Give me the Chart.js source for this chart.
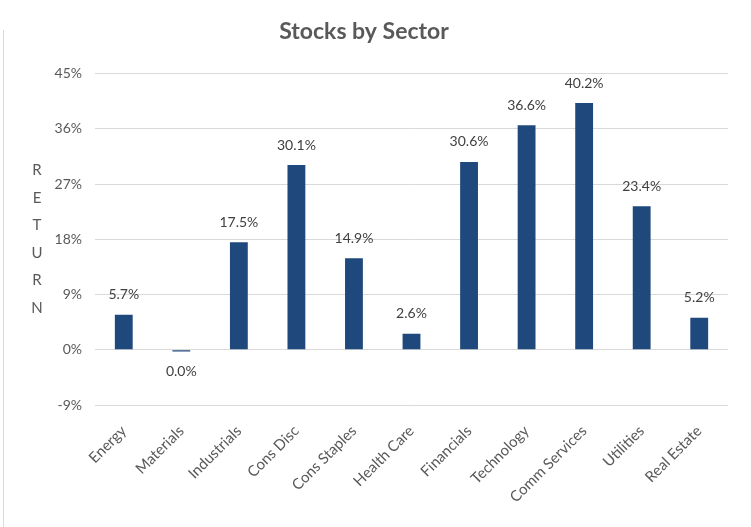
<!DOCTYPE html>
<html lang="en">
<head>
  <meta charset="UTF-8">
  <title>Stocks by Sector</title>
  <script src="https://cdn.jsdelivr.net/npm/chart.js"></script>
  <style>
    body {
      margin: 0;
      padding: 0;
      background-color: #fff;
    }
    .container {
      position: relative;
      width: 751px;
      height: 527px;
    }
    .container::before {
      content: '';
      position: absolute;
      left: 3px;
      top: 30px;
      bottom: 0;
      border-left: 1px solid #d9d9d9;
    }
  </style>
</head>
<body>
  <div class="container">
    <canvas id="graficaSectores" width="751" height="527"></canvas>
  </div>

  <script>
    var sectores = ['Energy', 'Materials', 'Industrials', 'Cons Disc', 'Cons Staples', 'Health Care',
      'Financials', 'Technology', 'Comm Services', 'Utilities', 'Real Estate'];
    var retornos = [5.7, -0.3, 17.5, 30.1, 14.9, 2.6, 30.6, 36.6, 40.2, 23.4, 5.2];
    var etiquetas = ['5.7%', '0.0%', '17.5%', '30.1%', '14.9%', '2.6%', '30.6%', '36.6%', '40.2%', '23.4%', '5.2%'];
    var tituloEje = ['R', 'E', 'T', 'U', 'R', 'N'];

    var fuente = 'Lato, "Open Sans", sans-serif';

    // etiquetas encima (o debajo) de cada barra
    var etiquetasPlugin = {
      id: 'etiquetas',
      afterDatasetsDraw: function(chart) {
        var ctx = chart.ctx;
        var meta = chart.getDatasetMeta(0);
        ctx.save();
        ctx.font = '14px ' + fuente;
        ctx.fillStyle = '#404040';
        ctx.textAlign = 'center';
        ctx.textBaseline = 'middle';
        meta.data.forEach(function(bar, i) {
          var v = retornos[i];
          var y = v >= 0 ? bar.y - 20 : bar.y + 20;
          ctx.fillText(etiquetas[i], bar.x, y);
        });
        ctx.restore();
      }
    };

    // titulo del eje Y con letras apiladas
    var ejePlugin = {
      id: 'tituloEje',
      afterDraw: function(chart) {
        var ctx = chart.ctx;
        var area = chart.chartArea;
        var centro = (area.top + area.bottom) / 2;
        var paso = 27.5;
        ctx.save();
        ctx.font = '15px ' + fuente;
        ctx.fillStyle = '#595959';
        ctx.textAlign = 'center';
        ctx.textBaseline = 'middle';
        tituloEje.forEach(function(letra, i) {
          ctx.fillText(letra, 37, centro + (i - (tituloEje.length - 1) / 2) * paso);
        });
        ctx.restore();
      }
    };

    var ctx = document.getElementById('graficaSectores').getContext('2d');
    var myChart = new Chart(ctx, {
      type: 'bar',
      data: {
        labels: sectores,
        datasets: [{
          label: 'Return',
          data: retornos,
          backgroundColor: '#1F497D',
          borderWidth: 0,
          categoryPercentage: 1,
          barPercentage: 0.31
        }]
      },
      options: {
        responsive: false,
        animation: false,
        layout: {
          padding: { left: 0, right: 23, top: 0, bottom: 0 }
        },
        plugins: {
          legend: { display: false },
          tooltip: { enabled: false },
          title: {
            display: true,
            text: 'Stocks by Sector',
            color: '#595959',
            font: { family: fuente, size: 23, weight: 'bold' },
            padding: { top: 18, bottom: 28 }
          }
        },
        scales: {
          x: {
            grid: { display: false, drawTicks: false },
            border: { display: false },
            ticks: {
              color: '#595959',
              font: { family: fuente, size: 15 },
              maxRotation: 45,
              minRotation: 45,
              padding: 17,
              autoSkip: false
            },
            afterFit: function(scale) { scale.height = 122; }
          },
          y: {
            min: -9,
            max: 45,
            grid: { color: '#d9d9d9', drawTicks: false },
            border: { display: false },
            ticks: {
              stepSize: 9,
              color: '#595959',
              font: { family: fuente, size: 14 },
              padding: 13,
              callback: function(v) { return v + '%'; }
            },
            afterFit: function(scale) { scale.width = 95; }
          }
        }
      },
      plugins: [etiquetasPlugin, ejePlugin]
    });
  </script>
</body>
</html>
